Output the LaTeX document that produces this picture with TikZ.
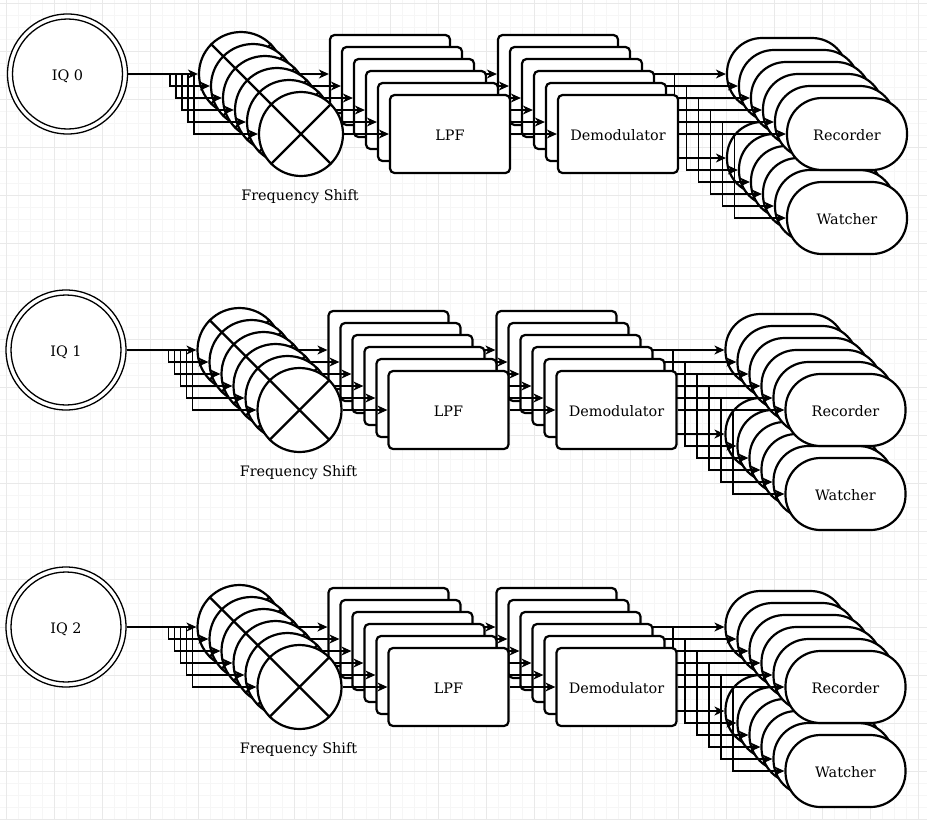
\documentclass[tikz,border=0pt]{standalone}
\usepackage{fontspec}
\setmainfont{DejaVu Serif}
\usetikzlibrary{arrows.meta}
\definecolor{gridminor}{RGB}{246,246,246}
\definecolor{gridmajor}{RGB}{233,233,233}
\tikzset{
  shapeline/.style={draw=black,line width=2.2pt,fill=white},
  crossline/.style={draw=black,line width=2.2pt},
  fshift/.style={shapeline,circle,minimum size=84pt,inner sep=0pt},
  txt/.style={font=\fontsize{14.4}{17}\selectfont,text height=13.1pt,text depth=0pt},
  procbox/.style={shapeline,rectangle,rounded corners=4.5pt,minimum width=120pt,minimum height=78pt,inner sep=0pt,txt},
  termbox/.style={shapeline,rectangle,rounded corners=35pt,minimum width=120pt,minimum height=72pt,inner sep=0pt,txt},
  iqnode/.style={draw=black,line width=1.3pt,fill=white,circle,minimum size=120pt,inner sep=0pt,txt},
  conn/.style={draw=black,line width=1.3pt},
  arr/.style={conn,-{Stealth[length=10pt,width=9pt,inset=3pt]}},
  lbl/.style={font=\fontsize{14.4}{17}\selectfont,inner sep=0pt,anchor=base},
}
\begin{document}
\begin{tikzpicture}[x=1pt,y=-1pt]
\useasboundingbox (0,0) rectangle (927,820);
\fill[white] (0,0) rectangle (927,820);
% grid
\foreach \gx in {6.7,18.7,...,927} \draw[gridminor,line width=0.8pt] (\gx,0) -- (\gx,820);
\foreach \gy in {3.3,15.3,...,820} \draw[gridminor,line width=0.8pt] (0,\gy) -- (927,\gy);
\foreach \gx in {6.7,54.7,...,927} \draw[gridmajor,line width=0.8pt] (\gx,0) -- (\gx,820);
\foreach \gy in {3.3,51.3,...,820} \draw[gridmajor,line width=0.8pt] (0,\gy) -- (927,\gy);
% rows
\foreach \r/\dx/\dy in {0/0/0,1/-1.5/276,2/-1.5/553}{
 \begin{scope}[shift={(\dx,\dy)}]
  \node[iqnode] (iq\r) at (67.5,74) {IQ \r};
  \draw[conn] (iq\r.center) circle[radius=55pt];
  \node[lbl] (fs\r) at (300,200) {Frequency Shift};
  \foreach \i in {0,...,5}{
    \pgfmathsetmacro\yy{74+12*\i}
    \pgfmathsetmacro\xc{241+12*\i}
    \pgfmathsetmacro\xl{390+12*\i}
    \pgfmathsetmacro\xd{558+12*\i}
    \pgfmathsetmacro\xr{787+12*\i}
    \pgfmathsetmacro\yw{158+12*\i}
    \pgfmathsetmacro\xo{41.8+6*(\i-1)}
    % frequency shift circle
    \node[fshift] (c\r-\i) at (\xc,\yy) {};
    \draw[crossline] (c\r-\i.45) -- (c\r-\i.225) (c\r-\i.135) -- (c\r-\i.315);
    \ifnum\i=0
      \draw[arr] (iq\r.east) -- (c\r-\i.west);
    \else
      \draw[arr] (iq\r.east) -- ++(\xo,0) |- (c\r-\i.west);
    \fi
    % LPF
    \node[procbox] (l\r-\i) at (\xl,\yy) {\ifnum\i=5 LPF\fi};
    \draw[arr] (c\r-\i.east) -- (l\r-\i.west);
    % Demodulator
    \node[procbox] (d\r-\i) at (\xd,\yy) {\ifnum\i=5 Demodulator\fi};
    \draw[arr] (l\r-\i.east) -- (d\r-\i.west);
    % Recorder / Watcher
    \node[termbox] (rec\r-\i) at (\xr,\yy) {\ifnum\i=5 Recorder\fi};
    \node[termbox] (wat\r-\i) at (\xr,\yw) {\ifnum\i=5 Watcher\fi};
    \draw[arr] (d\r-\i.east) -- (rec\r-\i.west);
    \draw[arr] (d\r-\i.east) -- ++(55.3,0) |- (wat\r-\i.west);
  }
 \end{scope}
}
\end{tikzpicture}
\end{document}
